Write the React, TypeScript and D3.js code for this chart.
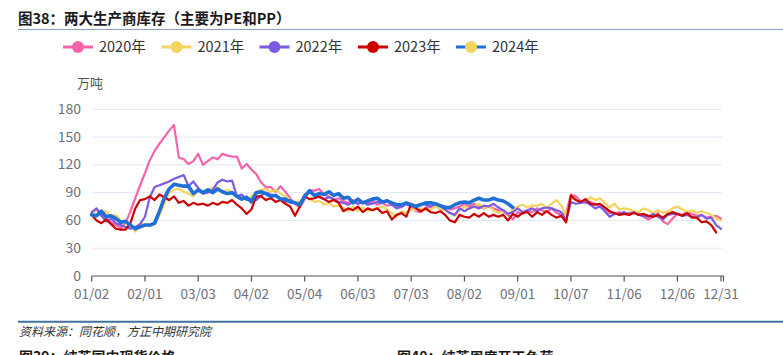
import React from "react";
import * as d3 from "d3";

const tickLabels = ["01/02","02/01","03/03","04/02","05/04","06/03","07/03","08/02","09/01","10/07","11/06","12/06","12/31"];
const tickIndices = [0,11,22,33,44,55,66,77,88,99,110,121,130];
const yTicks = [0,30,60,90,120,150,180];

const s2020 = [
  68,72,66,62,58,55,52,57,70,84,98,111,125,135,143,150,157,163,128,126,121,124,
  132,120,124,128,126,132,130,129,129,116,121,115,110,101,96,96,91,97,91,84,78,
  74,83,93,92,94,88,86,82,84,81,79,82,78,80,78,81,77,79,76,77,75,
  74,78,75,70,69,74,74,78,76,75,72,73,75,78,75,78,75,73,75,73,71,
  69,66,61,69,67,71,69,73,71,69,73,68,66,68,88,86,81,79,80,78,75,
  72,68,67,69,67,68,69,67,64,61,64,68,59,56,62,67,66,69,67,65,66,63,64,65,62
];
const s2021 = [
  68,71,69,70,64,66,60,56,56,48,57,56,54,57,66,78,90,93,94,91,89,86,
  93,90,93,95,96,90,93,91,87,86,82,86,91,93,94,91,93,89,86,82,80,
  80,87,83,80,81,77,79,75,76,73,70,75,70,74,70,72,73,75,72,68,64,
  70,68,72,71,73,71,72,75,72,71,68,65,71,75,72,75,78,73,75,71,68,
  70,67,72,75,77,74,76,76,78,73,78,82,76,66,84,82,80,80,85,82,84,
  79,74,78,72,73,72,70,69,73,71,68,71,68,70,73,75,72,69,71,68,70,68,66,62,60
];
const s2022 = [
  69,73,65,59,62,57,55,53,51,53,56,64,85,96,98,100,102,105,107,109,97,102,
  95,89,90,93,101,104,102,103,86,88,82,83,82,87,90,88,87,84,80,82,79,
  76,88,90,88,85,83,85,83,80,79,77,80,78,80,77,78,80,79,82,77,73,
  75,78,75,76,78,77,75,78,75,72,68,66,73,70,73,75,73,76,75,78,74,
  71,67,69,73,69,71,73,70,73,74,73,71,69,60,80,78,79,80,77,73,75,
  70,64,67,67,69,66,69,66,65,64,67,64,61,66,67,67,65,66,64,63,66,62,63,55,51
];
const s2023 = [
  66,60,57,61,56,51,50,50,57,73,82,83,86,82,88,85,82,86,79,81,76,79,
  77,78,76,79,77,80,79,82,77,73,67,72,86,86,82,84,80,82,78,75,65,
  75,86,83,84,86,83,80,82,79,70,73,71,75,69,73,71,73,68,70,61,66,
  68,64,78,73,70,73,69,68,70,66,60,58,66,64,63,67,64,68,64,66,64,
  66,60,67,64,68,69,64,69,66,70,66,63,65,58,87,82,80,83,78,77,78,
  74,70,68,66,67,66,68,66,67,65,64,66,63,67,69,67,65,68,63,63,58,59,55,47
];
const s2024 = [
  66,65,70,64,65,62,58,59,55,51,53,55,55,57,70,84,94,99,98,97,97,89,
  93,90,93,90,94,91,89,90,86,83,85,80,90,91,89,86,87,83,83,80,79,
  77,86,92,87,89,88,91,87,89,84,85,79,83,79,81,83,84,80,81,79,77,
  77,79,77,75,77,79,79,78,76,74,74,77,79,80,79,82,84,82,82,84,82,
  81,78,74
];

const seriesNames = ["2020年","2021年","2022年","2023年","2024年"];
const seriesData = [s2020, s2021, s2022, s2023, s2024];
const lineColors = ["#F564AA","#F4D45E","#7B5BE3","#CC0000","#1F6FD6"];
const dotColors = ["#F564AA","#F4D45E","#7B5BE3","#CC0000","#F4D45E"];
const lineWidths = [2.2,2.2,2.2,2.2,3.6];

const FONT = "'Noto Sans CJK SC', 'Noto Sans', sans-serif";

export default function App() {
  const W = 783, H = 355;
  const x = d3.scaleLinear().domain([0, 130]).range([91.7, 721]);
  const y = d3.scaleLinear().domain([0, 180]).range([276, 109.3]);
  const line = d3.line<number>().x((_, i) => x(i)).y((d) => y(d));

  const legendX = [63, 161.5, 259.5, 358, 456];

  return (
    <svg width={W} height={H} style={{ position: "fixed", left: 0, top: 0, background: "#fff" }} fontFamily={FONT}>
      <rect x={0} y={0} width={W} height={H} fill="#fff" />
      <text x={18} y={24} fontSize={14.5} fontWeight="bold" fill="#1a1a1a">图38：两大生产商库存（主要为PE和PP）</text>
      <line x1={18} x2={783} y1={29.5} y2={29.5} stroke="#8aa4bd" strokeWidth={1} />

      {seriesNames.map((n, k) => (
        <g key={n}>
          <line x1={legendX[k]} x2={legendX[k] + 30} y1={47} y2={47} stroke={lineColors[k]} strokeWidth={3} />
          <circle cx={legendX[k] + 15} cy={47} r={6} fill={dotColors[k]} />
          <text x={legendX[k] + 36} y={52} fontSize={14.5} fill="#333">{n}</text>
        </g>
      ))}

      <text x={77} y={87.5} fontSize={13} fill="#555">万吨</text>

      {yTicks.map((t) => (
        <g key={t}>
          {t > 0 && <line x1={91.7} x2={722} y1={y(t)} y2={y(t)} stroke="#E0E6F1" strokeWidth={1} />}
          <text x={81} y={y(t) + 4.5} fontSize={14} fill="#6E7079" textAnchor="end">{t}</text>
        </g>
      ))}

      <line x1={91.7} x2={723.5} y1={276} y2={276} stroke="#555" strokeWidth={1.2} />
      {tickIndices.map((ti, k) => (
        <g key={k}>
          <line x1={x(ti)} x2={x(ti)} y1={276} y2={281.5} stroke="#555" strokeWidth={1.2} />
          <text x={x(ti)} y={298.5} fontSize={13.5} fill="#6E7079" textAnchor="middle">{tickLabels[k]}</text>
        </g>
      ))}
      <line x1={723.5} x2={723.5} y1={276} y2={281.5} stroke="#555" strokeWidth={1.2} />

      {seriesData.map((d, k) => (
        <path key={k} d={line(d) || ""} fill="none" stroke={lineColors[k]} strokeWidth={lineWidths[k]} strokeLinejoin="round" strokeLinecap="round" />
      ))}

      <line x1={18} x2={783} y1={321.7} y2={321.7} stroke="#41729f" strokeWidth={2} />
      <text x={19} y={336} fontSize={12} fontStyle="italic" fill="#333">资料来源：同花顺，方正中期研究院</text>
      <text x={19} y={362} fontSize={14} fontWeight="bold" fill="#1a1a1a">图39：纯苯国内现货价格</text>
      <text x={397} y={362} fontSize={14} fontWeight="bold" fill="#1a1a1a">图40：纯苯周度开工负荷</text>
    </svg>
  );
}
